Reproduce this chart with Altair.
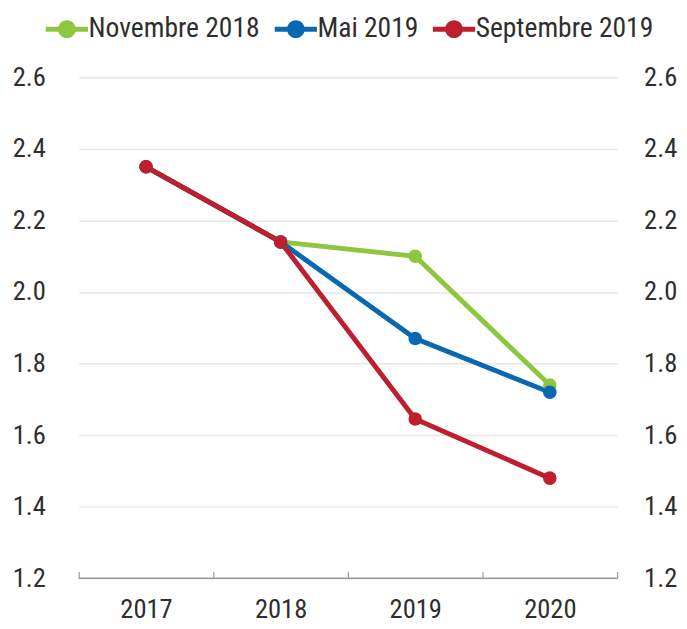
import altair as alt
import pandas as pd

years = ["2017", "2018", "2019", "2020"]
series = ["Novembre 2018", "Mai 2019", "Septembre 2019"]
nov_2018 = [2.35, 2.14, 2.10, 1.74]
mai_2019 = [2.35, 2.14, 1.87, 1.72]
sep_2019 = [2.35, 2.14, 1.645, 1.48]
colors = ["#8DC63F", "#0868B2", "#BE1E2D"]
y_ticks = [1.2, 1.4, 1.6, 1.8, 2.0, 2.2, 2.4, 2.6]

rows = []
for s, vals in zip(series, [nov_2018, mai_2019, sep_2019]):
    for yr, v in zip(years, vals):
        rows.append({"year": yr, "value": v, "series": s, "order": series.index(s)})
df = pd.DataFrame(rows)

FONT = "Liberation Sans Narrow, Roboto Condensed, Arial Narrow, Roboto, sans-serif"
TXT = "#2e2e2e"
FS = 27

legend_path = ("M-1.36,-0.16H-0.4V0.16H-1.36Z M0.4,-0.16H1.36V0.16H0.4Z "
               "M0.57,0A0.57,0.57,0,1,1,-0.57,0A0.57,0.57,0,1,1,0.57,0Z")

x_enc = alt.X("year:O", scale=alt.Scale(type="band", domain=years, paddingInner=0, paddingOuter=0),
              axis=alt.Axis(title=None, domain=False, ticks=True, tickBand="extent", tickSize=7,
                            offset=-7, tickColor="#999999", tickWidth=1.2, labelAngle=0,
                            labelFont=FONT, labelFontSize=FS, labelColor=TXT, labelPadding=19))
y_scale = alt.Scale(domain=[1.2, 2.6], nice=False, zero=False)
color_enc = alt.Color("series:N", scale=alt.Scale(domain=series, range=colors),
                      legend=alt.Legend(title=None, orient="none", direction="horizontal",
                                        legendX=-28, legendY=-65,
                                        symbolType=legend_path, symbolSize=1000, symbolStrokeWidth=0,
                                        labelFont=FONT, labelFontSize=28, labelColor=TXT,
                                        labelLimit=400, columnPadding=14, labelOffset=6))

base = alt.Chart(df)

lines = base.mark_line(strokeWidth=5).encode(
    x=x_enc,
    y=alt.Y("value:Q", scale=y_scale,
            axis=alt.Axis(title=None, orient="left", values=y_ticks, format=".1f", domain=False,
                          ticks=False, grid=True, gridColor="#e6e6e6", gridWidth=1.5,
                          labelFont=FONT, labelFontSize=FS, labelColor=TXT, labelPadding=34)),
    color=color_enc,
    order=alt.Order("order:Q"),
)

points = base.mark_point(filled=True, size=190, opacity=1).encode(
    x=x_enc,
    y=alt.Y("value:Q", scale=y_scale,
            axis=alt.Axis(title=None, orient="right", values=y_ticks, format=".1f", domain=False,
                          ticks=False, grid=False,
                          labelFont=FONT, labelFontSize=FS, labelColor=TXT, labelPadding=27)),
    color=color_enc,
    order=alt.Order("order:Q"),
)

baseline = alt.Chart(pd.DataFrame({"v": [y_ticks[0]]})).mark_rule(color="#999999", strokeWidth=1.5).encode(
    y=alt.Y("v:Q", scale=y_scale, axis=None),
    x=alt.value(0),
    x2=alt.value("width"),
)

chart = alt.layer(lines, points, baseline).resolve_axis(y="independent").properties(
    width=548, height=510,
    padding={"left": 4, "top": 0, "right": 2, "bottom": 0},
).configure_view(stroke=None)

chart.save("out.html", embed_options={"renderer": "svg", "actions": False})
